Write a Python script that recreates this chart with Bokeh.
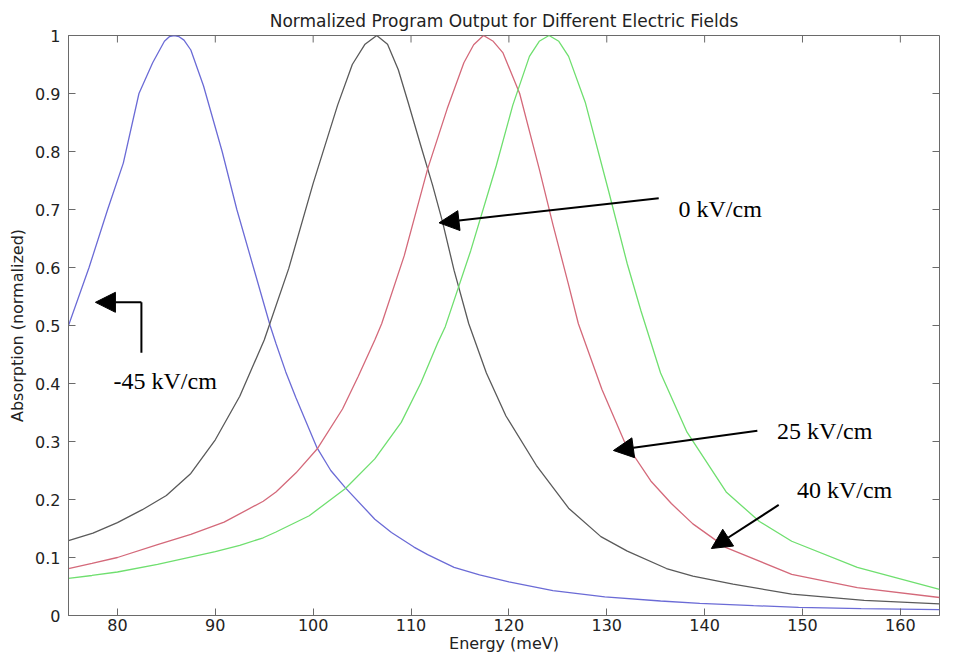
import math
from bokeh.plotting import figure
from bokeh.models import Range1d, FixedTicker, Arrow, NormalHead
from bokeh.core.properties import value
from bokeh.embed import file_html
from bokeh.resources import INLINE

# ---- data ----
energy_m45 = [75.0, 77.1, 79.0, 80.6, 82.2, 83.6, 84.8, 85.3, 85.8, 86.3, 86.8, 87.5, 88.8,
              90.7, 92.2, 93.9, 95.6, 96.2, 97.2, 98.25, 100.4, 101.8, 103.3, 106.3, 108.0,
              110.3, 111.7, 114.4, 117.0, 120.0, 124.5, 129.8, 135.5, 139.5, 145.0, 149.6,
              156.0, 164.0]
absorb_m45 = [0.50, 0.60, 0.70, 0.78, 0.90, 0.953, 0.99, 0.998, 1.00, 0.998, 0.992, 0.975, 0.913,
              0.80, 0.70, 0.60, 0.50, 0.469, 0.42, 0.375, 0.289, 0.250, 0.220, 0.166, 0.143,
              0.118, 0.105, 0.083, 0.070, 0.058, 0.043, 0.032, 0.025, 0.021, 0.017, 0.014,
              0.012, 0.010]

energy_0 = [75.0, 77.5, 80.0, 82.5, 85.0, 87.5, 90.0, 92.5, 95.0, 97.5, 100.0, 102.5, 104.0,
            105.3, 106.5, 107.6, 108.7, 109.7, 111.0, 112.2, 113.2, 114.4, 115.9, 117.7,
            119.7, 122.8, 126.1, 129.4, 132.1, 136.1, 138.8, 142.9, 148.9, 156.3, 164.0]
absorb_0 = [0.129, 0.142, 0.160, 0.182, 0.207, 0.245, 0.303, 0.378, 0.475, 0.598, 0.745, 0.88, 0.95,
            0.985, 1.00, 0.985, 0.941, 0.885, 0.81, 0.742, 0.68, 0.595, 0.503, 0.418,
            0.344, 0.259, 0.185, 0.136, 0.111, 0.081, 0.068, 0.054, 0.037, 0.026, 0.020]

energy_25 = [75.0, 77.4, 80.0, 84.1, 87.5, 90.9, 94.9, 96.2, 98.25, 100.4, 103.0, 104.6, 106.3,
             107.0, 109.3, 111.7, 113.7, 115.4, 116.4, 117.4, 118.4, 119.4, 121.1, 123.1,
             124.5, 126.1, 127.1, 129.5, 131.8, 134.5, 136.6, 138.8, 142.2, 148.9, 155.6, 164.0]
absorb_25 = [0.081, 0.090, 0.100, 0.122, 0.140, 0.161, 0.197, 0.213, 0.246, 0.287, 0.356, 0.412, 0.475,
             0.503, 0.62, 0.77, 0.874, 0.953, 0.984, 1.00, 0.99, 0.97, 0.90, 0.77,
             0.674, 0.57, 0.503, 0.39, 0.30, 0.232, 0.193, 0.158, 0.117, 0.071, 0.048, 0.031]

energy_40 = [75.0, 77.4, 80.0, 84.1, 90.0, 92.5, 94.9, 96.2, 99.6, 103.3, 106.3, 109.0, 111.0,
             112.7, 113.5, 116.1, 118.7, 120.4, 122.1, 123.1, 124.1, 125.1, 126.1, 127.8, 130.2,
             132.1, 133.5, 135.5, 138.2, 142.2, 145.6, 148.9, 155.6, 164.0]
absorb_40 = [0.064, 0.069, 0.075, 0.088, 0.110, 0.121, 0.134, 0.144, 0.172, 0.219, 0.270, 0.333, 0.401,
             0.469, 0.498, 0.629, 0.775, 0.88, 0.964, 0.99, 1.00, 0.99, 0.964, 0.885, 0.731,
             0.606, 0.525, 0.418, 0.316, 0.213, 0.162, 0.128, 0.083, 0.045]

x_min, x_max = 75, 164
y_min, y_max = 0, 1
x_ticks = [80, 90, 100, 110, 120, 130, 140, 150, 160]
y_ticks = [0, 0.1, 0.2, 0.3, 0.4, 0.5, 0.6, 0.7, 0.8, 0.9, 1]
y_tick_labels = ["0", "0.1", "0.2", "0.3", "0.4", "0.5", "0.6", "0.7", "0.8", "0.9", "1"]

# annotation labels and arrows (data coordinates)
label_text = ["-45 kV/cm", "0 kV/cm", "25 kV/cm", "40 kV/cm"]
label_x = [79.6, 137.33, 147.4, 149.43]
label_y = [0.404, 0.701, 0.3186, 0.2162]
arrow_x_start = [82.45, 135.31, 145.39, 147.57]
arrow_y_start = [0.540, 0.7196, 0.3186, 0.1906]
arrow_x_end = [77.75, 112.86, 130.68, 140.69]
arrow_y_end = [0.540, 0.677, 0.2845, 0.1155]
elbow_x = [82.45, 82.45]
elbow_y = [0.453, 0.540]

AX = "#6a6a6a"
FONT = "DejaVu Sans"

p = figure(width=940, height=655, x_range=Range1d(x_min, x_max), y_range=Range1d(y_min, y_max),
           output_backend="svg", toolbar_location=None,
           min_border_left=68, min_border_right=1, min_border_top=35, min_border_bottom=10,
           background_fill_color="white", border_fill_color="white")
p.outline_line_color = AX
p.xgrid.visible = False
p.ygrid.visible = False

p.title.text = "Normalized Program Output for Different Electric Fields"
p.title.align = "center"
p.title.offset = -9
p.title.text_font = FONT
p.title.text_font_size = "17px"
p.title.text_font_style = "normal"
p.title.text_color = "#222222"

def style_axis(ax):
    ax.axis_line_color = AX
    ax.major_tick_line_color = AX
    ax.minor_tick_line_color = None
    ax.major_tick_in = 7
    ax.major_tick_out = 0
    ax.major_label_text_font = FONT
    ax.major_label_text_font_size = "16px"
    ax.major_label_text_color = "#222222"
    ax.axis_label_text_font = FONT
    ax.axis_label_text_font_style = "normal"
    ax.axis_label_text_color = "#222222"

xa = p.xaxis[0]
xa.ticker = FixedTicker(ticks=x_ticks)
style_axis(xa)
xa.axis_label = "Energy (meV)"
xa.axis_label_text_font_size = "16px"
xa.major_label_standoff = 3
xa.axis_label_standoff = 0

ya = p.yaxis[0]
ya.ticker = FixedTicker(ticks=y_ticks)
style_axis(ya)
ya.major_label_overrides = {t: l for t, l in zip(y_ticks, y_tick_labels)}
ya.axis_label = "Absorption (normalized)"
ya.axis_label_text_font_size = "16px"
ya.major_label_standoff = 8
ya.axis_label_standoff = 5

# inward tick marks on the top and right edges of the box
p.ray(x=x_ticks, y=[y_max] * len(x_ticks), length=7, length_units="screen",
      angle=-math.pi / 2, line_color=AX, line_width=1)
p.ray(x=[x_max] * len(y_ticks), y=y_ticks, length=7, length_units="screen",
      angle=math.pi, line_color=AX, line_width=1)

lw = 1.3
p.line(energy_m45, absorb_m45, line_color="#6b6bd6", line_width=lw)
p.line(energy_0, absorb_0, line_color="#5a5a5a", line_width=lw)
p.line(energy_25, absorb_25, line_color="#d4697a", line_width=lw)
p.line(energy_40, absorb_40, line_color="#6fdf6f", line_width=lw)

# annotations
p.line(elbow_x, elbow_y, line_color="black", line_width=2)
for xs, ys, xe, ye in zip(arrow_x_start, arrow_y_start, arrow_x_end, arrow_y_end):
    p.add_layout(Arrow(x_start=xs, y_start=ys, x_end=xe, y_end=ye, line_color="black",
                       line_width=2,
                       end=NormalHead(size=20, fill_color="black", line_color="black")))

p.text(x=label_x, y=label_y, text=label_text, text_font=value("Liberation Serif"),
       text_font_size="24px", text_color="black", text_align="left",
       text_baseline="alphabetic")

open("out.html", "w").write(file_html(p, INLINE))
